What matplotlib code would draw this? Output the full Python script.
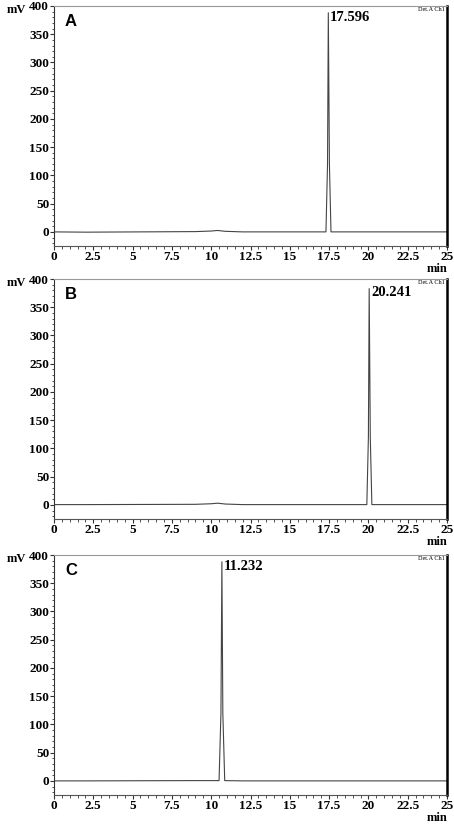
import matplotlib
matplotlib.use('Agg')
import matplotlib.pyplot as plt
from matplotlib.ticker import MultipleLocator

# chromatogram traces: (min, mV) vertices
panels = ['A', 'B', 'C']
peak_labels = ['17.596', '20.241', '11.232']

time_a = [0, 2.0, 9.0, 10.0, 10.4, 10.9, 12.0, 17.30, 17.40, 17.45, 17.52, 17.62, 25]
mv_a = [0, -0.5, 0.5, 1.5, 2.5, 1.0, 0, 0, 120, 388, 120, 0, 0]

time_b = [0, 2.0, 9.0, 10.0, 10.4, 10.9, 12.0, 19.90, 20.00, 20.05, 20.12, 20.22, 25]
mv_b = [0.5, 0.5, 1.0, 2.0, 3.0, 1.5, 0.5, 0.5, 120, 383, 120, 0.5, 0.5]

time_c = [0, 2.0, 9.0, 10.5, 10.62, 10.68, 10.74, 10.86, 12.0, 25]
mv_c = [0, 0, 0.5, 0.5, 120, 388, 120, 0.5, 0, 0]

traces = [(time_a, mv_a), (time_b, mv_b), (time_c, mv_c)]

# axes boxes in pixels (top, bottom) of the 454x825 picture
W, H = 454.0, 825.0
boxes = [(6, 246), (279, 519), (555, 795)]
left_px, right_px = 54, 447

serif = 'Liberation Serif'

fig = plt.figure(figsize=(4.54, 8.25), dpi=100)

for i, (top, bottom) in enumerate(boxes):
    ax = fig.add_axes([left_px / W, 1 - bottom / H, (right_px - left_px) / W, (bottom - top) / H])
    t, mv = traces[i]
    ax.plot(t, mv, color='#444444', linewidth=0.8)

    ax.set_xlim(0, 25)
    ax.set_ylim(-25, 400)
    ax.xaxis.set_major_locator(MultipleLocator(2.5))
    ax.xaxis.set_minor_locator(MultipleLocator(0.5))
    ax.yaxis.set_major_locator(MultipleLocator(50))
    ax.yaxis.set_minor_locator(MultipleLocator(10))
    ax.xaxis.set_major_formatter(matplotlib.ticker.FuncFormatter(lambda v, p: ('%g' % v)))
    ax.tick_params(axis='both', which='major', length=3, width=0.8, pad=0.5,
                   labelsize=9.5, direction='out', color='#333333')
    ax.tick_params(axis='both', which='minor', length=1.8, width=0.6, direction='out', color='#333333')
    for lab in ax.get_xticklabels() + ax.get_yticklabels():
        lab.set_fontfamily(serif)
        lab.set_fontweight('bold')

    ax.spines['top'].set_color('#999999')
    ax.spines['top'].set_linewidth(0.8)
    ax.spines['left'].set_color('#333333')
    ax.spines['left'].set_linewidth(0.8)
    ax.spines['bottom'].set_color('#555555')
    ax.spines['bottom'].set_linewidth(0.8)
    ax.spines['right'].set_color('black')
    ax.spines['right'].set_linewidth(1.8)

    # panel letter
    ax.text(0.028, 0.965, panels[i], transform=ax.transAxes, ha='left', va='top',
            fontsize=12, fontweight='bold', family='Liberation Sans')
    # detector tag
    ax.text(0.995, 0.995, 'Det.A Ch1', transform=ax.transAxes, ha='right', va='top',
            fontsize=4.5, family=serif)
    # retention time label next to peak apex
    k = mv.index(max(mv))
    ax.text(t[k] + 0.12, max(mv) + 4, peak_labels[i], ha='left', va='top',
            fontsize=10.5, fontweight='bold', family=serif)
    # axis unit labels
    ax.text(-0.07, 0.985, 'mV', transform=ax.transAxes, ha='right', va='center',
            fontsize=9, fontweight='bold', family=serif)
    ax.text(1.0, -0.07, 'min', transform=ax.transAxes, ha='right', va='top',
            fontsize=9, fontweight='bold', family=serif)

fig.savefig('out.png', dpi=100)
